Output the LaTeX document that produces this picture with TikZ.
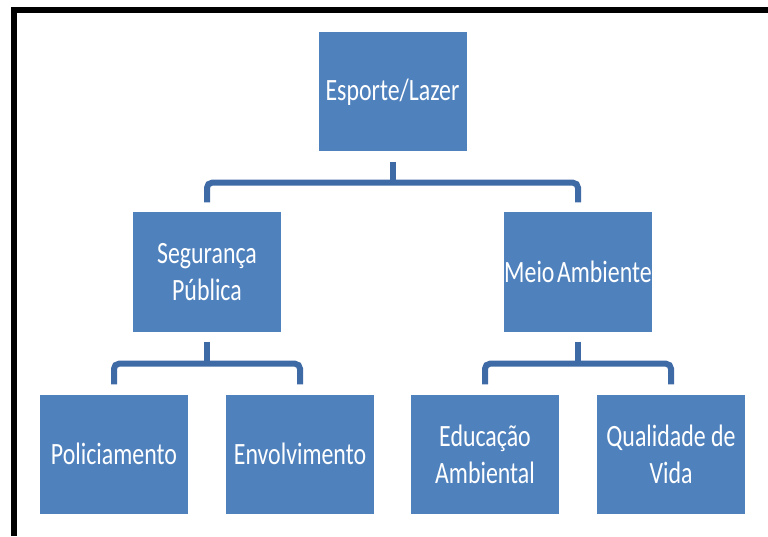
\documentclass[tikz,border=0pt]{standalone}
\usepackage{fontspec}
\setmainfont{Carlito}[FakeStretch=0.77]
\usetikzlibrary{calc}
\definecolor{boxblue}{HTML}{4F81BD}
\definecolor{connblue}{RGB}{62,106,166}
\tikzset{
  orgbox/.style={fill=boxblue, draw=none, minimum width=148pt, minimum height=119pt,
    inner sep=0pt, align=center, text=white, font=\fontsize{31}{37}\selectfont},
  conn/.style={draw=connblue, line width=6pt, rounded corners=5pt}
}
\begin{document}
\begin{tikzpicture}[x=1pt,y=1pt]
\useasboundingbox (0,0) rectangle (768,536);
% frame (top and left edges)
\fill[black] (11,529) rectangle (768,523);
\fill[black] (11,529) rectangle (17,0);
% boxes
\node[orgbox] (E) at (392.5,444) {Esporte/Lazer};
\node[orgbox] (S) at (207,264) {Segurança\\Pública};
\node[orgbox] (M) at (578,264) {Meio\hspace{2.5pt}Ambiente};
\node[orgbox] (P) at (114,82) {Policiamento};
\node[orgbox] (V) at (300,82) {Envolvimento};
\node[orgbox] (D) at (485,82) {Educação\\Ambiental};
\node[orgbox] (Q) at (671,82) {Qualidade de\\Vida};
% connectors level 1
\coordinate (b1) at ($(E.south)+(0,-31)$);
\draw[conn] ([yshift=-10pt]E.south) -- (b1);
\draw[conn] ([yshift=10pt]S.north) |- (b1) -| ([yshift=10pt]M.north);
% connectors level 2 left
\coordinate (b2) at ($(S.south)+(0,-32)$);
\draw[conn] ([yshift=-10pt]S.south) -- (b2);
\draw[conn] ([yshift=10pt]P.north) |- (b2) -| ([yshift=10pt]V.north);
% connectors level 2 right
\coordinate (b3) at ($(M.south)+(0,-32)$);
\draw[conn] ([yshift=-10pt]M.south) -- (b3);
\draw[conn] ([yshift=10pt]D.north) |- (b3) -| ([yshift=10pt]Q.north);
\end{tikzpicture}
\end{document}
